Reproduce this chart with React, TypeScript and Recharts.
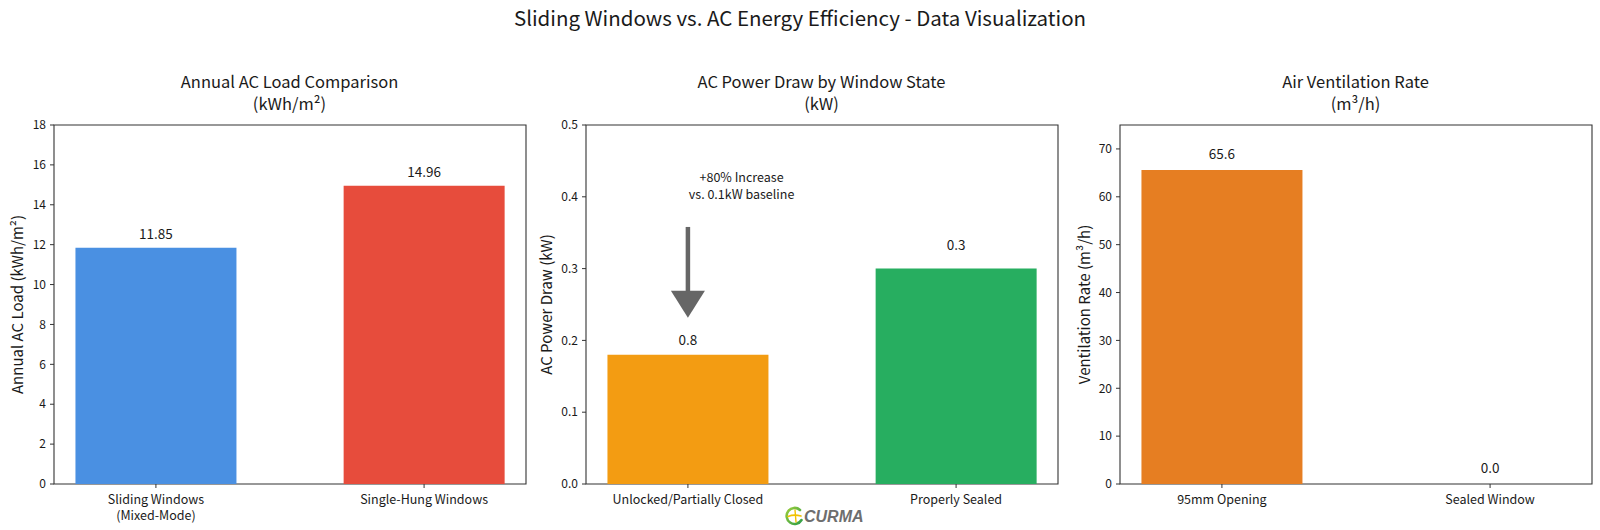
import React from 'react';
import {
  BarChart,
  Bar,
  XAxis,
  YAxis,
  Cell,
  ReferenceArea,
  ReferenceLine,
  ReferenceDot,
} from 'recharts';

const FONT = '"Noto Sans CJK SC", "Noto Sans", sans-serif';
const INK = '#1a1a1a';
const SPINE = '#333333';

// ---- Annual AC load ----
const loadCategories = ['Sliding Windows\n(Mixed-Mode)', 'Single-Hung Windows'];
const loadValues = [11.85, 14.96];
const loadColors = ['#4A90E2', '#E74C3C'];
const loadTicks = [0, 2, 4, 6, 8, 10, 12, 14, 16, 18];

// ---- AC power draw ----
const powerCategories = ['Unlocked/Partially Closed', 'Properly Sealed'];
const powerValues = [0.18, 0.3];
const powerLabels = ['0.8', '0.3'];
const powerColors = ['#F39C12', '#27AE60'];
const powerTicks = [0, 0.1, 0.2, 0.3, 0.4, 0.5];

// arrow + note on the power panel, in data units
const arrowTail = { x: 0, y: 0.358 };
const arrowHeadBase = { x: 0, y: 0.268 };
const arrowTip = { x: 0, y: 0.2315 };
const noteAnchor = { x: 0.2, y: 0.415 };
const noteLines = ['+80% Increase', 'vs. 0.1kW baseline'];

// ---- Ventilation ----
const ventCategories = ['95mm Opening', 'Sealed Window'];
const ventValues = [65.6, 0.0];
const ventColors = ['#E67E22', '#E67E22'];
const ventTicks = [0, 10, 20, 30, 40, 50, 60, 70];
const ventMax = 75;

const X_DOMAIN: [number, number] = [-0.38, 1.38];

const PLOT_W = 472;
const PLOT_TOP = 125;
const PLOT_BOTTOM = 484;
const Y_AXIS_W = 60;
const X_AXIS_H = 40;
const RIGHT_M = 10;
const CHART_H = 530;

const makeRows = (values: number[]) => values.map((v, i) => ({ x: i, value: v }));

const CategoryTick = (props: any) => {
  const { x, y, payload, names } = props;
  const text: string = names[Math.round(payload.value)] ?? '';
  const lines = text.split('\n');
  return (
    <text x={x} y={y} textAnchor="middle" fill={INK} fontSize={12.5} fontFamily={FONT}>
      {lines.map((l, i) => (
        <tspan key={i} x={x} dy={i === 0 ? 12.5 : 16.5}>
          {l}
        </tspan>
      ))}
    </text>
  );
};

const AxisTitle = (props: any) => {
  const { viewBox, text, dx } = props;
  const vb = viewBox ?? { x: 0, y: PLOT_TOP, height: PLOT_BOTTOM - PLOT_TOP };
  const cx = vb.x + dx;
  const cy = vb.y + vb.height / 2;
  return (
    <text
      x={cx}
      y={cy}
      transform={`rotate(-90 ${cx} ${cy})`}
      textAnchor="middle"
      dominantBaseline="central"
      fill={INK}
      fontSize={15}
      fontFamily={FONT}
    >
      {text}
    </text>
  );
};

// value text placed above the top of its bar
const ValueText = (props: any) => {
  const { cx, cy, text, lift } = props;
  return (
    <text x={cx} y={cy - lift} dy="0.35em" textAnchor="middle" fill={INK} fontSize={13.5} fontFamily={FONT}>
      {text}
    </text>
  );
};

type PanelProps = {
  plotLeft: number;
  title: string[];
  yLabel: string;
  yLabelDx: number;
  names: string[];
  values: number[];
  labels: string[];
  colors: string[];
  ticks: number[];
  yMax: number;
  fmt: (v: number) => string;
  lift: (barPx: number) => number;
  children?: React.ReactNode;
};

const Panel = (p: PanelProps) => {
  const rows = makeRows(p.values);
  const chartLeft = p.plotLeft - Y_AXIS_W;
  const pxPerUnit = (PLOT_BOTTOM - PLOT_TOP) / p.yMax;
  return (
    <>
      <div
        style={{
          position: 'absolute',
          left: p.plotLeft,
          width: PLOT_W,
          top: 69.5,
          textAlign: 'center',
          fontSize: 16.5,
          lineHeight: '22px',
          fontFamily: FONT,
          color: INK,
        }}
      >
        {p.title.map((t, i) => (
          <div key={i}>{t}</div>
        ))}
      </div>
      <div style={{ position: 'absolute', left: chartLeft, top: 0 }}>
        <BarChart
          width={Y_AXIS_W + PLOT_W + RIGHT_M}
          height={CHART_H}
          data={rows}
          margin={{ top: PLOT_TOP, right: RIGHT_M, left: 0, bottom: CHART_H - PLOT_BOTTOM - X_AXIS_H }}
          barCategoryGap="20%"
        >
          <XAxis
            dataKey="x"
            type="number"
            domain={X_DOMAIN}
            ticks={[0, 1]}
            allowDataOverflow
            height={X_AXIS_H}
            axisLine={false}
            tickLine={{ stroke: SPINE }}
            tickSize={4}
            tickMargin={3}
            interval={0}
            tick={<CategoryTick names={p.names} />}
          />
          <YAxis
            type="number"
            domain={[0, p.yMax]}
            ticks={p.ticks}
            allowDataOverflow
            width={Y_AXIS_W}
            axisLine={false}
            tickLine={{ stroke: SPINE }}
            tickSize={4}
            tickMargin={4}
            tickFormatter={p.fmt}
            tick={{ fill: INK, fontSize: 12, fontFamily: FONT }}
            label={<AxisTitle text={p.yLabel} dx={p.yLabelDx} />}
          />
          <Bar dataKey="value" isAnimationActive={false}>
            {rows.map((_, i) => (
              <Cell key={i} fill={p.colors[i]} />
            ))}
          </Bar>
          {rows.map((r, i) => (
            <ReferenceDot
              key={`v${i}`}
              x={r.x}
              y={r.value}
              r={0}
              ifOverflow="visible"
              shape={<ValueText text={p.labels[i]} lift={p.lift(r.value * pxPerUnit)} />}
            />
          ))}
          {p.children}
          <ReferenceArea
            x1={X_DOMAIN[0]}
            x2={X_DOMAIN[1]}
            y1={0}
            y2={p.yMax}
            fill="none"
            fillOpacity={0}
            stroke={SPINE}
            strokeWidth={1.1}
            ifOverflow="visible"
          />
        </BarChart>
      </div>
    </>
  );
};

const ArrowHead = (props: any) => {
  const { cx, cy } = props;
  return <polygon points={`${cx - 17},${cy - 27} ${cx + 17},${cy - 27} ${cx},${cy}`} fill="#666666" />;
};

const Note = (props: any) => {
  const { cx, cy } = props;
  return (
    <text x={cx} y={cy} textAnchor="middle" fill={INK} fontSize={12.5} fontFamily={FONT}>
      {noteLines.map((l, i) => (
        <tspan key={i} x={cx} dy={i === 0 ? '-0.3em' : '1.3em'}>
          {l}
        </tspan>
      ))}
    </text>
  );
};

const Logo = () => (
  <svg
    width={100}
    height={24}
    style={{ position: 'absolute', left: 784, top: 504 }}
    viewBox="0 0 100 24"
  >
    <defs>
      <linearGradient id="ring" x1="0" y1="0" x2="1" y2="1">
        <stop offset="0" stopColor="#9ACD3C" />
        <stop offset="1" stopColor="#2E9E48" />
      </linearGradient>
    </defs>
    <path d="M 16 6 A 8 8 0 1 0 17.5 16" fill="none" stroke="url(#ring)" strokeWidth={2.6} strokeLinecap="round" />
    <path d="M 4 12.5 Q 10 10 17 12" fill="none" stroke="#F2C200" strokeWidth={1.6} strokeLinecap="round" />
    <path d="M 11 6 L 12 18" fill="none" stroke="#F2C200" strokeWidth={1.4} strokeLinecap="round" />
    <text
      x={20}
      y={17.5}
      fontSize={16}
      fontWeight={700}
      fontStyle="italic"
      fill="#6E6E6E"
      fontFamily='"Liberation Sans", "DejaVu Sans", sans-serif'
    >
      CURMA
    </text>
  </svg>
);

export default function App() {
  return (
    <div
      style={{
        position: 'fixed',
        left: 0,
        top: 0,
        width: 1600,
        height: 530,
        background: '#ffffff',
        fontFamily: FONT,
        overflow: 'hidden',
      }}
    >
      <div
        style={{
          position: 'absolute',
          left: 0,
          width: 1600,
          top: 4,
          textAlign: 'center',
          fontSize: 20.5,
          lineHeight: '26px',
          color: INK,
          fontFamily: FONT,
        }}
      >
        Sliding Windows vs. AC Energy Efficiency - Data Visualization
      </div>

      <Panel
        plotLeft={53.5}
        title={['Annual AC Load Comparison', '(kWh/m²)']}
        yLabel="Annual AC Load (kWh/m²)"
        yLabelDx={22}
        names={loadCategories}
        values={loadValues}
        labels={loadValues.map((v) => v.toFixed(2))}
        colors={loadColors}
        ticks={loadTicks}
        yMax={18}
        fmt={(v) => String(v)}
        lift={() => 13.5}
      />

      <Panel
        plotLeft={585.5}
        title={['AC Power Draw by Window State', '(kW)']}
        yLabel="AC Power Draw (kW)"
        yLabelDx={19.5}
        names={powerCategories}
        values={powerValues}
        labels={powerLabels}
        colors={powerColors}
        ticks={powerTicks}
        yMax={0.5}
        fmt={(v) => v.toFixed(1)}
        lift={(h) => 2 + h * 0.1}
      >
        <ReferenceLine
          segment={[arrowTail, arrowHeadBase]}
          stroke="#666666"
          strokeWidth={4.5}
          ifOverflow="visible"
        />
        <ReferenceDot x={arrowTip.x} y={arrowTip.y} r={0} shape={<ArrowHead />} ifOverflow="visible" />
        <ReferenceDot x={noteAnchor.x} y={noteAnchor.y} r={0} shape={<Note />} ifOverflow="visible" />
      </Panel>

      <Panel
        plotLeft={1119.5}
        title={['Air Ventilation Rate', '(m³/h)']}
        yLabel="Ventilation Rate (m³/h)"
        yLabelDx={23.5}
        names={ventCategories}
        values={ventValues}
        labels={ventValues.map((v) => v.toFixed(1))}
        colors={ventColors}
        ticks={ventTicks}
        yMax={ventMax}
        fmt={(v) => String(v)}
        lift={() => 16}
      />

      <Logo />
    </div>
  );
}
